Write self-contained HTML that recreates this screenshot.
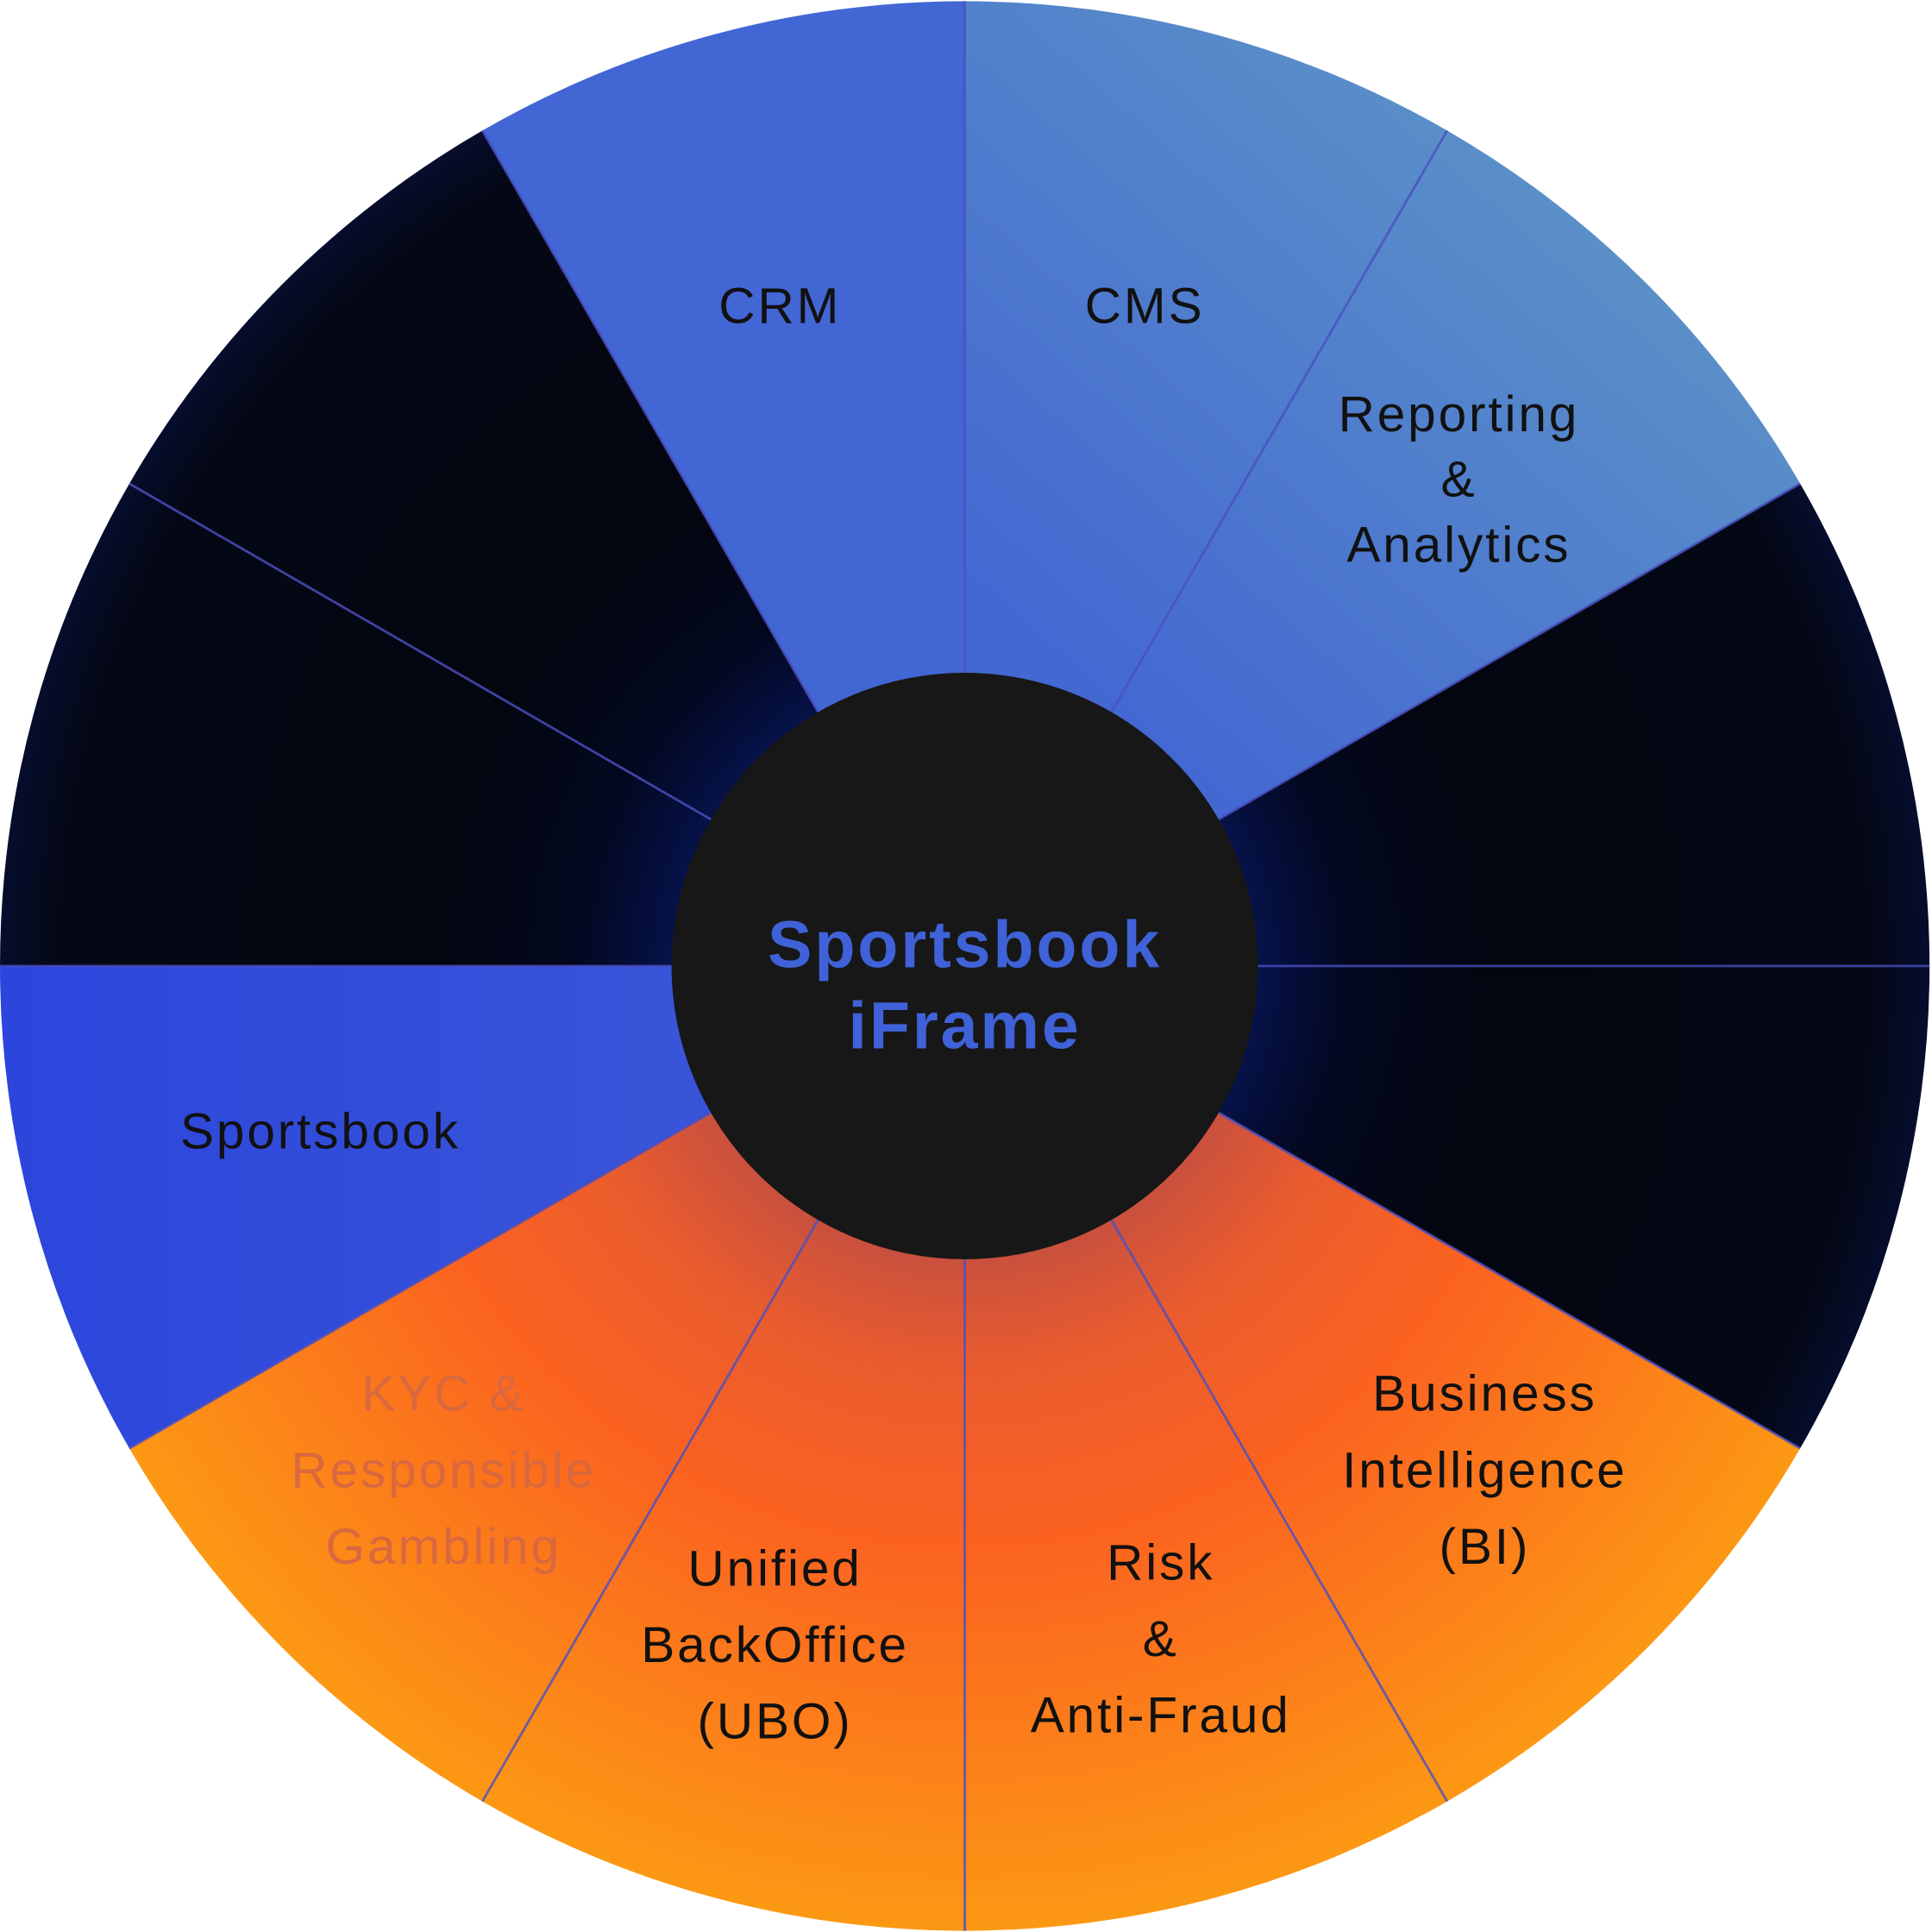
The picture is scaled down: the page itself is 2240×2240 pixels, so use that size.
<!DOCTYPE html>
<html><head><meta charset="utf-8"><style>
html,body{margin:0;padding:0;background:#fff;width:2240px;height:2240px;overflow:hidden}
svg{display:block}
text{font-family:"Liberation Sans",sans-serif}
</style></head><body>
<svg width="2240" height="2240" viewBox="0 0 1568 1568" xmlns="http://www.w3.org/2000/svg">
<defs>
<radialGradient id="og" cx="0" cy="0" r="783" gradientUnits="userSpaceOnUse">
<stop offset="0.3" stop-color="#c8503e"/>
<stop offset="0.42" stop-color="#ea5c2e"/>
<stop offset="0.6" stop-color="#fb6220"/>
<stop offset="1" stop-color="#fc9814"/>
</radialGradient>
<radialGradient id="dg" cx="0" cy="0" r="783" gradientUnits="userSpaceOnUse">
<stop offset="0.3" stop-color="#06124a"/>
<stop offset="0.4" stop-color="#030820"/>
<stop offset="0.55" stop-color="#03060f"/>
<stop offset="0.94" stop-color="#040816"/>
<stop offset="1" stop-color="#060c2c"/>
</radialGradient>
<linearGradient id="sb" x1="0" y1="0" x2="1" y2="0">
<stop offset="0" stop-color="#2c45dc"/><stop offset="1" stop-color="#3d5ad6"/>
</linearGradient>
<linearGradient id="bl" x1="783" y1="784" x2="1300" y2="200" gradientUnits="userSpaceOnUse">
<stop offset="0.3" stop-color="#4368d2"/><stop offset="1" stop-color="#5a8fc8"/>
</linearGradient>
</defs>
<g transform="translate(783,784)">
<path d="M0,0 L-391.5,-678 A783,783 0 0 1 0,-783 Z" fill="#4266d4"/>
<g transform="translate(-783,-784)">
<path d="M783,784 L783,1 A783,783 0 0 1 1174.5,106 Z" fill="url(#bl)"/>
<path d="M783,784 L1174.5,106 A783,783 0 0 1 1461,392.5 Z" fill="url(#bl)"/>
</g>
<path d="M0,0 L678,-391.5 A783,783 0 0 1 783,0 Z" fill="url(#dg)"/>
<path d="M0,0 L783,0 A783,783 0 0 1 678,391.5 Z" fill="url(#dg)"/>
<path d="M0,0 L678,391.5 A783,783 0 0 1 391.5,678 Z" fill="url(#og)"/>
<path d="M0,0 L391.5,678 A783,783 0 0 1 0,783 Z" fill="url(#og)"/>
<path d="M0,0 L0,783 A783,783 0 0 1 -391.5,678 Z" fill="url(#og)"/>
<path d="M0,0 L-391.5,678 A783,783 0 0 1 -678,391.5 Z" fill="url(#og)"/>
<path d="M0,0 L-678,391.5 A783,783 0 0 1 -783,0 Z" fill="url(#sb)"/>
<path d="M0,0 L-783,0 A783,783 0 0 1 -678,-391.5 Z" fill="url(#dg)"/>
<path d="M0,0 L-678,-391.5 A783,783 0 0 1 -391.5,-678 Z" fill="url(#dg)"/>
<g stroke="#4a4fc0" stroke-width="2" opacity="0.8">
<line x1="0" y1="0" x2="0" y2="-783"/><line x1="0" y1="0" x2="391.5" y2="-678"/>
<line x1="0" y1="0" x2="678" y2="-391.5"/><line x1="0" y1="0" x2="783" y2="0"/>
<line x1="0" y1="0" x2="678" y2="391.5"/><line x1="0" y1="0" x2="391.5" y2="678"/>
<line x1="0" y1="0" x2="0" y2="783"/><line x1="0" y1="0" x2="-391.5" y2="678"/>
<line x1="0" y1="0" x2="-678" y2="391.5"/><line x1="0" y1="0" x2="-783" y2="0"/>
<line x1="0" y1="0" x2="-678" y2="-391.5"/><line x1="0" y1="0" x2="-391.5" y2="-678"/>
</g>
<circle cx="0" cy="0" r="238" fill="#171717"/>
</g>
<g font-size="41" fill="#111" text-anchor="middle" letter-spacing="2">
<text x="633" y="262">CRM</text>
<text x="929" y="262">CMS</text>
<text x="1184" y="350">Reporting</text>
<text x="1184" y="403">&amp;</text>
<text x="1184" y="456">Analytics</text>
<text x="260" y="932">Sportsbook</text>
<text x="1205" y="1145">Business</text>
<text x="1205" y="1207">Intelligence</text>
<text x="1205" y="1269">(BI)</text>
<text x="942" y="1282">Risk</text>
<text x="942" y="1344">&amp;</text>
<text x="942" y="1406">Anti-Fraud</text>
<text x="629" y="1287">Unified</text>
<text x="629" y="1349">BackOffice</text>
<text x="629" y="1411">(UBO)</text>
<g fill="#d9683f">
<text x="360" y="1145">KYC &amp;</text>
<text x="360" y="1207">Responsible</text>
<text x="360" y="1269">Gambling</text>
</g>
</g>
<g font-size="54" font-weight="bold" fill="#3f62d8" text-anchor="middle" letter-spacing="2">
<text x="783" y="785">Sportsbook</text>
<text x="783" y="851">iFrame</text>
</g>
</svg>
</body></html>
